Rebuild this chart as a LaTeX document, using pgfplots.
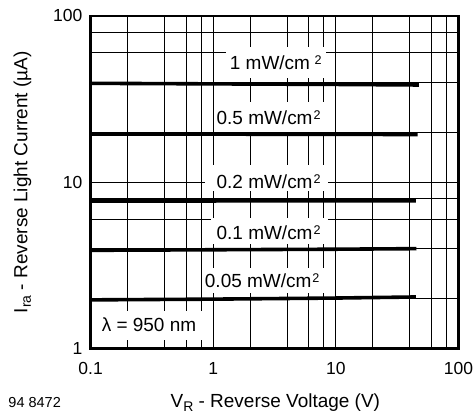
\documentclass[border=0pt]{standalone}
\usepackage{fontspec}
\setmainfont{Liberation Sans}
\usepackage{pgfplots}
\pgfplotsset{compat=1.18}
\newcommand\sq{\raisebox{5pt}{\fontsize{12.6}{13}\selectfont 2}}
\begin{document}
\begin{tikzpicture}[x=1pt,y=1pt]
\begin{axis}[
  at={(0,0)}, anchor=south west,
  scale only axis, width=368.3pt, height=333.3pt,
  xmode=log, ymode=log, xmin=0.1, xmax=100, ymin=1, ymax=100,
  xtick={0.1,1,10,100}, xticklabels={0.1,1,10,100},
  ytick={1,10,100}, yticklabels={1,10,100},
  minor xtick={0.2,0.4,0.6,0.8,2,4,6,8,20,40,60,80},
  minor ytick={2,4,6,8,20,40,60,80},
  grid=both,
  major grid style={black, line width=0.9pt},
  minor grid style={black, line width=0.9pt},
  major tick length=0pt, minor tick length=0pt,
  axis line style={line width=2.8pt},
  tick label style={font=\fontsize{17.5}{20}\selectfont},
  xticklabel style={anchor=base, yshift=-25.7pt, inner sep=0pt},
  yticklabel style={anchor=east, xshift=-8pt, inner sep=0pt},
  clip=false,
]
\addplot[black, line width=3.6pt] coordinates {(0.1,39.4) (1,39.1) (10,38.8) (47.5,38.5)};
\addplot[black, line width=3.6pt] coordinates {(0.1,19.5) (1,19.5) (10,19.45) (46.5,19.4)};
\addplot[black, line width=3.6pt] coordinates {(0.1,7.73) (1,7.74) (10,7.75) (45,7.76)};
\addplot[black, line width=3.6pt] coordinates {(0.1,3.91) (1,3.94) (10,3.97) (45.5,4.0)};
\addplot[black, line width=3.6pt] coordinates {(0.1,1.97) (1,1.99) (10,2.02) (45,2.05)};
\end{axis}
% label boxes
\fill[white] (136,271) rectangle (236,302.6);
\fill[white] (124.3,217.6) rectangle (239.3,247.6);
\fill[white] (114.3,157.6) rectangle (237.6,184.3);
\fill[white] (121,105) rectangle (237.6,131.3);
\fill[white] (112.3,56) rectangle (237.3,81);
\fill[white] (1.5,8.6) rectangle (117.3,37.6);
\begin{scope}[every node/.style={inner sep=0pt, anchor=base west, font=\fontsize{19}{22}\selectfont}]
\node at (139.3,280) {1 mW/cm\hspace{4.5pt}\sq};
\node at (126,224.3) {0.5 mW/cm\hspace{1pt}\sq};
\node at (126,161) {0.2 mW/cm\hspace{1pt}\sq};
\node at (126,109.3) {0.1 mW/cm\hspace{1pt}\sq};
\node at (114.3,61.6) {0.05 mW/cm\hspace{1pt}\sq};
\node at (11,17.6) {λ = 950 nm};
\end{scope}
\node[inner sep=0pt, anchor=base, font=\fontsize{19}{22}\selectfont] at (185,-59)
  {V\raisebox{-3.5pt}{\fontsize{14}{14}\selectfont R} - Reverse Voltage (V)};
\node[inner sep=0pt, anchor=base, rotate=90, font=\fontsize{19}{22}\selectfont] at (-63.2,166.8)
  {I\raisebox{-3.5pt}{\fontsize{14}{14}\selectfont ra} - Reverse Light Current (µA)};
\node[inner sep=0pt, anchor=base west, font=\fontsize{14.5}{16}\selectfont] at (-82.4,-59) {94 8472};
\path (-90.7,-66.7) rectangle (382.3,349.3);
\end{tikzpicture}
\end{document}
